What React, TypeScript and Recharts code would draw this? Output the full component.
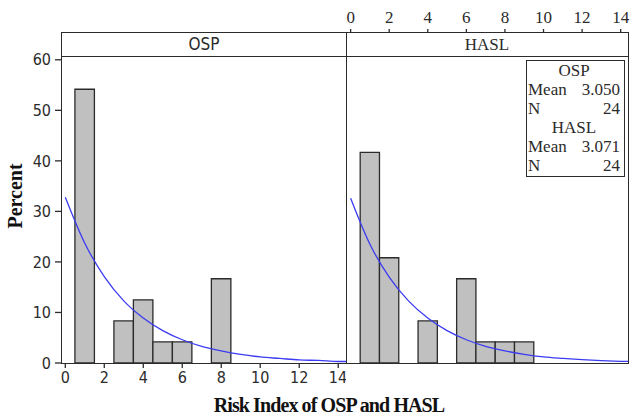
import React from 'react';
import { ComposedChart, Bar, Line, XAxis, YAxis, Rectangle } from 'recharts';

// Histogram bins (width 1, centred on integers) — percent of N = 24
const binCenters = [1, 2, 3, 4, 5, 6, 7, 8, 9];
const ospPercent = [54.17, 0, 8.33, 12.5, 4.17, 4.17, 0, 16.67, 0];
const haslPercent = [41.67, 20.83, 0, 8.33, 0, 16.67, 4.17, 4.17, 4.17];

// Fitted (blue) curve
const fitX = [0, 1, 2, 3, 4, 5, 6, 7, 8, 9, 10, 11, 12, 13, 14, 14.4];
const ospFit = [32.8, 23.7, 17.1, 12.3, 8.9, 6.4, 4.6, 3.3, 2.4, 1.7, 1.2, 0.9, 0.6, 0.5, 0.3, 0.3];
const haslFit = [32.6, 23.5, 17.0, 12.3, 8.9, 6.4, 4.6, 3.3, 2.4, 1.7, 1.2, 0.9, 0.65, 0.47, 0.34, 0.3];

const xTicks = [0, 2, 4, 6, 8, 10, 12, 14];
const yTicks = [0, 10, 20, 30, 40, 50, 60];
const panelNames = ['OSP', 'HASL'];
const panelMeans = ['3.050', '3.071'];
const panelCounts = ['24', '24'];

const xLabel = 'Risk Index of OSP and HASL';
const yLabel = 'Percent';

const leftDomain: [number, number] = [-0.22, 14.4];
const rightDomain: [number, number] = [-0.24, 14.38];
const yDomain: [number, number] = [0, 65.5];

const buildData = (pct: number[], fit: number[]) => {
  const xs = Array.from(new Set([...fitX, ...binCenters])).sort((a, b) => a - b);
  return xs.map((x) => {
    const bi = binCenters.indexOf(x);
    const fi = fitX.indexOf(x);
    return {
      x,
      pct: bi >= 0 && pct[bi] > 0 ? pct[bi] : undefined,
      fit: fi >= 0 ? fit[fi] : undefined,
    };
  });
};

const ospData = buildData(ospPercent, ospFit);
const haslData = buildData(haslPercent, haslFit);

const SANS = "'Liberation Sans Narrow', 'DejaVu Sans Condensed', sans-serif";
const SERIF = "'Liberation Serif', 'DejaVu Serif', serif";
const INK = '#2b2b2b';
const BAR_FILL = '#c0c0c0';
const CURVE = '#3b3bf2';

const leftPlotW = 346 - 61;
const rightPlotW = 628 - 346;
// one bin (1 unit) in pixels
const leftBin = leftPlotW / (leftDomain[1] - leftDomain[0]);
const rightBin = rightPlotW / (rightDomain[1] - rightDomain[0]);

const binShape = (binW: number) => (props: any) => {
  const { x, width, y, height } = props;
  if (!height || height <= 0) return <g />;
  const cx = x + width / 2;
  return (
    <Rectangle x={cx - binW / 2} y={y} width={binW} height={height} fill={BAR_FILL} stroke={INK} strokeWidth={1.3} />
  );
};

const abs = (s: React.CSSProperties): React.CSSProperties => ({ position: 'absolute', boxSizing: 'border-box', ...s });

const Row = ({ l, r }: { l: string; r: string }) => (
  <div style={{ display: 'flex', justifyContent: 'space-between', height: 19, lineHeight: '19px' }}>
    <span>{l}</span>
    <span>{r}</span>
  </div>
);

export default function App() {
  return (
    <div style={abs({ left: 0, top: 0, width: 630, height: 417, background: '#fff', overflow: 'hidden' })}>
      {/* Left panel: OSP */}
      <div style={abs({ left: 0, top: 0 })}>
        <ComposedChart width={346} height={417} data={ospData} margin={{ top: 32, right: 0, bottom: 0, left: 0 }}>
          <XAxis
            dataKey="x"
            type="number"
            domain={leftDomain}
            ticks={xTicks}
            allowDataOverflow
            height={54}
            axisLine={false}
            tickSize={5}
            tickMargin={4}
            tickLine={{ stroke: INK, strokeWidth: 1.3 }}
            tick={{ fontSize: 16, fontFamily: SANS, fill: INK }}
          />
          <YAxis
            type="number"
            domain={yDomain}
            ticks={yTicks}
            allowDataOverflow
            width={61}
            axisLine={false}
            tickSize={6}
            tickMargin={4}
            tickLine={{ stroke: INK, strokeWidth: 1.3 }}
            tick={{ fontSize: 16, fontFamily: SANS, fill: INK }}
          />
          <Bar dataKey="pct" shape={binShape(leftBin)} isAnimationActive={false} />
          <Line dataKey="fit" type="monotone" stroke={CURVE} strokeWidth={1.3} dot={false} activeDot={false} isAnimationActive={false} />
        </ComposedChart>
      </div>

      {/* Right panel: HASL */}
      <div style={abs({ left: 346, top: 0 })}>
        <ComposedChart width={284} height={417} data={haslData} margin={{ top: 0, right: 2, bottom: 54, left: 0 }}>
          <XAxis
            dataKey="x"
            type="number"
            orientation="top"
            domain={rightDomain}
            ticks={xTicks}
            allowDataOverflow
            height={32}
            axisLine={false}
            tickSize={3}
            tickMargin={6}
            tickLine={{ stroke: INK, strokeWidth: 1.3 }}
            tick={{ fontSize: 17, fontFamily: SERIF, fill: INK }}
          />
          <YAxis type="number" domain={yDomain} allowDataOverflow hide />
          <Bar dataKey="pct" shape={binShape(rightBin)} isAnimationActive={false} />
          <Line dataKey="fit" type="monotone" stroke={CURVE} strokeWidth={1.3} dot={false} activeDot={false} isAnimationActive={false} />
        </ComposedChart>
      </div>

      {/* Frame, strip headers */}
      <div style={abs({ left: 61, top: 32, width: 567.5, height: 332, border: `1.5px solid ${INK}`, pointerEvents: 'none' })} />
      <div style={abs({ left: 61, top: 55.5, width: 567.5, height: 0, borderTop: `1.5px solid ${INK}` })} />
      <div style={abs({ left: 345.5, top: 32, width: 0, height: 332, borderLeft: `1.5px solid ${INK}` })} />
      <div style={abs({ left: 62, top: 33, width: 284, height: 23, lineHeight: '23px', textAlign: 'center', fontFamily: SANS, fontSize: 17, color: INK })}>
        {panelNames[0]}
      </div>
      <div style={abs({ left: 347, top: 33, width: 280, height: 23, lineHeight: '23px', textAlign: 'center', fontFamily: SERIF, fontSize: 17, color: INK })}>
        {panelNames[1]}
      </div>

      {/* Statistics box */}
      <div
        style={abs({
          left: 526,
          top: 60,
          width: 99,
          height: 117,
          border: `1.5px solid ${INK}`,
          padding: '0 4px 0 1px',
          fontFamily: SERIF,
          fontSize: 17,
          color: INK,
          background: '#fff',
        })}
      >
        <div style={{ textAlign: 'center', height: 19, lineHeight: '19px' }}>{panelNames[0]}</div>
        <Row l="Mean" r={panelMeans[0]} />
        <Row l="N" r={panelCounts[0]} />
        <div style={{ textAlign: 'center', height: 19, lineHeight: '19px' }}>{panelNames[1]}</div>
        <Row l="Mean" r={panelMeans[1]} />
        <Row l="N" r={panelCounts[1]} />
      </div>

      {/* Axis titles */}
      <div
        style={abs({
          left: 15 - 60,
          top: 196 - 12,
          width: 120,
          height: 24,
          lineHeight: '24px',
          textAlign: 'center',
          transform: 'rotate(-90deg)',
          fontFamily: SERIF,
          fontWeight: 'bold',
          fontSize: 20,
          color: '#111',
          whiteSpace: 'nowrap',
        })}
      >
        {yLabel}
      </div>
      <div
        style={abs({
          left: 329 - 150,
          top: 393,
          width: 300,
          height: 24,
          lineHeight: '24px',
          textAlign: 'center',
          fontFamily: SERIF,
          fontWeight: 'bold',
          fontSize: 20,
          letterSpacing: -0.9,
          color: '#111',
          whiteSpace: 'nowrap',
        })}
      >
        {xLabel}
      </div>
    </div>
  );
}
